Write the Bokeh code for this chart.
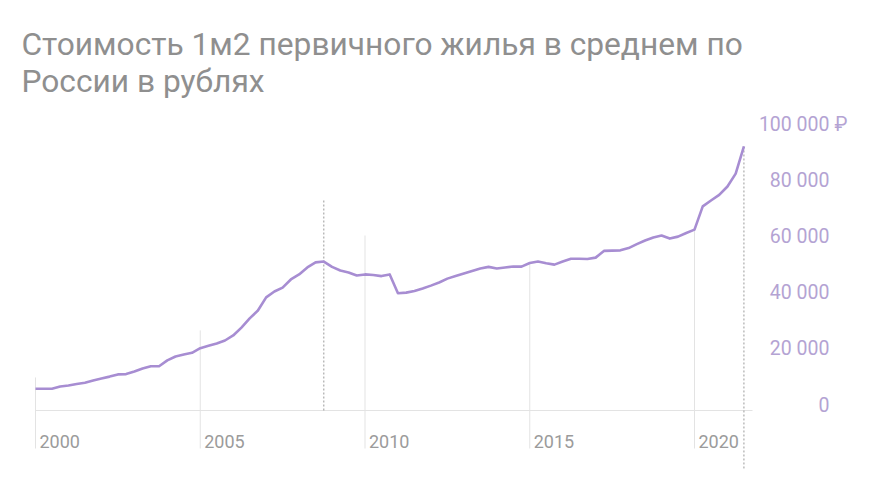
from bokeh.plotting import figure
from bokeh.models import Range1d, Label
from bokeh.core.properties import value
from bokeh.embed import file_html
from bokeh.resources import INLINE

# ---- data (quarterly, from Q1 2000) ----
start_year = 2000
price = [
    7750, 7750, 7750, 8570, 8900, 9460, 9900, 10700,
    11400, 12100, 12900, 13000, 13900, 15000, 15800, 15800,
    17900, 19300, 20000, 20600, 22250, 23100, 23900, 25000,
    26800, 29600, 32900, 35700, 40400, 42500, 43900, 46800,
    48600, 51100, 52900, 53200, 51300, 50000, 49300, 48200,
    48600, 48400, 48000, 48600, 41900, 42100, 42700, 43600,
    44600, 45700, 47100, 48000, 48900, 49800, 50700, 51300,
    50700, 51100, 51400, 51400, 52700, 53200, 52600, 52100,
    53200, 54200, 54200, 54100, 54600, 57000, 57100, 57200,
    58000, 59400, 60700, 61800, 62500, 61400, 62100, 63400,
    64600, 72900, 75000, 77000, 80000, 84600, 94300,
]
years = [start_year + i * 0.25 for i in range(len(price))]

year_ticks = [2000, 2005, 2010, 2015, 2020]
year_labels = ["2000", "2005", "2010", "2015", "2020"]
grid_tops = [11800, 28600, 62500, 52700, 64600]

y_ticks = [0, 20000, 40000, 60000, 80000, 100000]
y_labels = ["0", "20 000", "40 000", "60 000", "80 000", "100 000"]

marker_years = [2008.75, 2021.5]
marker_tops = [75700, 94300]
marker_bottoms = [0, -20700]

title_1 = "Стоимость 1м2 первичного жилья в среднем по"
title_2 = "России в рублях"

# ---- layout ----
W, H = 878, 486
px_per_year = 32.95
x0_px = 35
px_per_val = 0.0028
y0_px = 410

x_start = 2000 - x0_px / px_per_year
x_end = 2000 + (W - x0_px) / px_per_year
y_start = -(H - y0_px) / px_per_val
y_end = y0_px / px_per_val

p = figure(width=W, height=H, output_backend="svg", toolbar_location=None,
           x_range=Range1d(x_start, x_end), y_range=Range1d(y_start, y_end),
           x_axis_location=None, y_axis_location=None, min_border=0,
           tools="")
p.grid.visible = False
p.outline_line_color = None
p.background_fill_color = "white"
p.border_fill_color = "white"

grid_col = "#e3e3e3"
bottom_val = -(448 - y0_px) / px_per_val

# vertical gridlines
p.segment(x0=year_ticks, y0=[bottom_val] * len(year_ticks), x1=year_ticks, y1=grid_tops,
          line_color=grid_col, line_width=1)
# baseline
p.segment(x0=[2000], y0=[0], x1=[2000 + (752 - x0_px) / px_per_year], y1=[0],
          line_color=grid_col, line_width=1)
# dotted markers
p.segment(x0=marker_years, y0=marker_bottoms, x1=marker_years, y1=marker_tops,
          line_color="#9a9a9a", line_width=1, line_dash="2 2")

# data line
p.line(years, price, line_color="#a78dd2", line_width=2.6, line_join="round")

# year labels
p.text(x=[t + 4 / px_per_year for t in year_ticks], y=[-(441 - y0_px) / px_per_val] * len(year_ticks),
       text=year_labels, text_font=value("Roboto"), text_font_size="18px",
       text_color="#9b9b9b", text_align="left", text_baseline="middle")

# y labels (right aligned)
lab_x = 2000 + (829 - x0_px) / px_per_year
p.text(x=[lab_x] * len(y_ticks), y=y_ticks, text=y_labels, y_offset=-6,
       text_font=value("Roboto"), text_font_size="19.5px", text_color="#b4a3d3",
       text_align="right", text_baseline="middle")
p.text(x=[lab_x + 5 / px_per_year], y=[y_ticks[-1]], text=["₽"], y_offset=-6,
       text_font=value("Roboto"), text_font_size="19.5px", text_color="#b4a3d3",
       text_align="left", text_baseline="middle")

# title
for txt, yb in [(title_1, H - 44), (title_2, H - 81)]:
    p.add_layout(Label(x=21, y=yb, x_units="screen", y_units="screen", text=txt,
                       text_font="Roboto", text_font_size="31.7px",
                       text_color="#8f8f8f", text_baseline="alphabetic"))

open("out.html", "w").write(file_html(p, INLINE))
